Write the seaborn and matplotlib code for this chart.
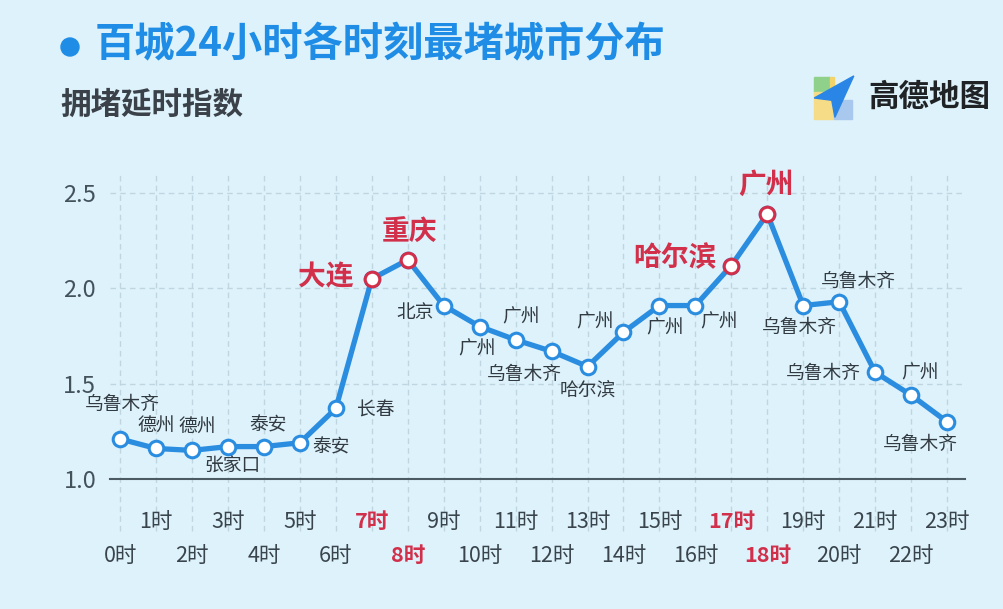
import pandas as pd
import matplotlib
matplotlib.use("Agg")
import matplotlib.pyplot as plt
from matplotlib.patches import Ellipse, Polygon, Rectangle
import seaborn as sns

# ── Data ──────────────────────────────────────────────────────────────────────
hours = list(range(24))
hour_labels = [f"{h}时" for h in hours]
delay_index = [1.21, 1.16, 1.15, 1.17, 1.17, 1.19, 1.37, 2.05, 2.15, 1.91, 1.80, 1.73,
               1.67, 1.59, 1.77, 1.91, 1.91, 2.12, 2.39, 1.91, 1.93, 1.56, 1.44, 1.30]
cities = ["乌鲁木齐", "德州", "德州", "张家口", "泰安", "泰安", "长春", "大连",
          "重庆", "北京", "广州", "广州", "乌鲁木齐", "哈尔滨", "广州", "广州",
          "广州", "哈尔滨", "广州", "乌鲁木齐", "乌鲁木齐", "乌鲁木齐", "广州", "乌鲁木齐"]
peak_hours = [7, 8, 17, 18]
y_ticks = [1.0, 1.5, 2.0, 2.5]

# label offsets in pixels (dx, dy), dy positive = up
label_offsets = [(2, 34), (0, 23), (5, 24), (4, -20), (4, 22), (31, -4), (40, -2), (-46, 2),
                 (2, 27), (-29, -7), (-3, -22), (5, 23), (-27, -23), (0, -24), (-28, 10),
                 (6, -22), (24, -16), (-56, 7), (-1, 29), (-4, -22), (19, 20), (-52, -1),
                 (9, 22), (-27, -23)]

BG = "#ddf2fb"
BLUE = "#2a8de0"
RED = "#d22f4a"
GRID = "#bfd5e0"
TEXT = "#3a444c"

sns.set_theme(style="white")
plt.rcParams["font.family"] = ["Noto Sans CJK SC", "DejaVu Sans"]

fig = plt.figure(figsize=(10.04, 6.09), dpi=100, facecolor=BG)
ax = fig.add_axes([0.1096, 0.2135, 0.8516, 0.5007])
ax.set_facecolor(BG)

df = pd.DataFrame({"hour": hours, "value": delay_index, "city": cities})

sns.lineplot(data=df, x="hour", y="value", ax=ax, color=BLUE, linewidth=3.8,
             marker="o", markersize=10.5, markerfacecolor="white",
             markeredgecolor=BLUE, markeredgewidth=2.2, zorder=3)
peaks = df[df["hour"].isin(peak_hours)]
sns.scatterplot(data=peaks, x="hour", y="value", ax=ax, s=110, color="white",
                edgecolor=RED, linewidth=2.2, zorder=4)

ax.set_xlim(-0.28, 23.5)
ax.set_ylim(1.0, 2.6)
ax.set_yticks(y_ticks)
ax.set_yticklabels([f"{t:.1f}" for t in y_ticks], fontsize=17, color="#44525c")
ax.set_xticks(hours)
ax.set_xticklabels([])
ax.tick_params(axis="both", length=0, pad=10)
ax.set_xlabel("")
ax.set_ylabel("")
for name, spine in ax.spines.items():
    spine.set_visible(name == "bottom")
ax.spines["bottom"].set_color("#4b5a63")
ax.spines["bottom"].set_linewidth(1.5)

# dashed grid
ax.yaxis.grid(True, linestyle=(0, (4, 3)), color=GRID, linewidth=1)
ax.vlines(hours, -0.17, 1.0, transform=ax.get_xaxis_transform(), colors=GRID,
          linestyles=(0, (4, 3)), linewidth=1, clip_on=False, zorder=0)

# staggered hour labels
for h, lab in zip(hours, hour_labels):
    y = -0.141 if h % 2 else -0.252
    hot = h in peak_hours
    ax.text(h, y, lab, transform=ax.get_xaxis_transform(), ha="center", va="center",
            fontsize=15.5, color=RED if hot else TEXT,
            fontweight="bold" if hot else "normal")

# city labels
for h, v, c, (dx, dy) in zip(hours, delay_index, cities, label_offsets):
    hot = h in peak_hours
    ax.annotate(c, (h, v), xytext=(dx, dy), textcoords="offset pixels",
                ha="center", va="center", fontsize=20 if hot else 13.5,
                fontweight="bold" if hot else "normal",
                color=RED if hot else "#333b42", zorder=5)

# title block
W, H = 1004, 609
fig.add_artist(Ellipse((70 / W, 1 - 47 / H), 18 / W, 18 / H, color="#1f8de6",
                       transform=fig.transFigure))
fig.text(95 / W, 1 - 45 / H, "百城24小时各时刻最堵城市分布", fontsize=29,
         fontweight="bold", color="#1f8de6", va="center", ha="left")
fig.text(60 / W, 1 - 105 / H, "拥堵延时指数", fontsize=22, fontweight="bold",
         color="#3b4148", va="center", ha="left")

# logo
logo = fig.add_axes([812 / W, 1 - 121 / H, 44 / W, 46 / H])
logo.set_xlim(0, 1)
logo.set_ylim(0, 1)
logo.axis("off")
logo.add_patch(Rectangle((0.05, 0.62), 0.35, 0.33, color="#8fd18a"))
logo.add_patch(Rectangle((0.40, 0.62), 0.10, 0.33, color="#f3d46a"))
logo.add_patch(Rectangle((0.05, 0.05), 0.45, 0.57, color="#f6dc86"))
logo.add_patch(Rectangle((0.50, 0.05), 0.42, 0.40, color="#a8c8ee"))
logo.add_patch(Polygon([(0.95, 0.98), (0.05, 0.50), (0.45, 0.45), (0.52, 0.08)],
                       closed=True, color="#2a86e6"))
fig.text(868 / W, 1 - 97 / H, "高德地图", fontsize=22, fontweight="bold",
         color="#1f2326", va="center", ha="left")

fig.savefig("out.png", dpi=100, facecolor=BG)
